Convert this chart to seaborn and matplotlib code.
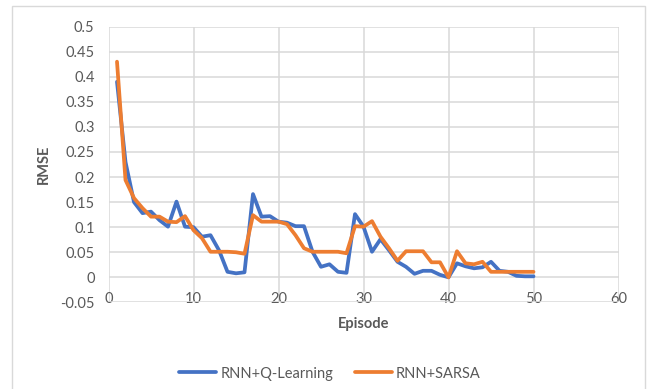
import matplotlib
matplotlib.use("Agg")
import matplotlib.pyplot as plt
import seaborn as sns
import pandas as pd
from matplotlib.patches import Rectangle
from matplotlib.lines import Line2D

episodes = list(range(1, 51))
q_learning = [0.39, 0.23, 0.15, 0.128, 0.131, 0.114, 0.101, 0.151, 0.101, 0.100,
              0.081, 0.084, 0.054, 0.011, 0.008, 0.010, 0.166, 0.121, 0.122, 0.111,
              0.109, 0.102, 0.102, 0.051, 0.021, 0.026, 0.011, 0.009, 0.126, 0.101,
              0.051, 0.076, 0.054, 0.031, 0.021, 0.007, 0.013, 0.013, 0.005, 0.000,
              0.028, 0.022, 0.018, 0.020, 0.031, 0.013, 0.011, 0.003, 0.002, 0.002]
sarsa = [0.43, 0.194, 0.158, 0.138, 0.121, 0.121, 0.111, 0.110, 0.122, 0.094,
         0.078, 0.051, 0.051, 0.051, 0.050, 0.047, 0.124, 0.111, 0.111, 0.111,
         0.106, 0.084, 0.058, 0.051, 0.051, 0.051, 0.051, 0.048, 0.102, 0.101,
         0.112, 0.081, 0.058, 0.033, 0.052, 0.052, 0.052, 0.030, 0.030, 0.000,
         0.052, 0.028, 0.026, 0.031, 0.011, 0.011, 0.011, 0.011, 0.011, 0.011]
series_names = ["RNN+Q-Learning", "RNN+SARSA"]
colors = ["#4472C4", "#ED7D31"]
x_ticks = [0, 10, 20, 30, 40, 50, 60]
y_ticks = [-0.05, 0, 0.05, 0.1, 0.15, 0.2, 0.25, 0.3, 0.35, 0.4, 0.45, 0.5]
y_tick_labels = ["-0.05", "0", "0.05", "0.1", "0.15", "0.2", "0.25", "0.3", "0.35", "0.4", "0.45", "0.5"]

df = pd.DataFrame({
    "Episode": episodes * 2,
    "RMSE": q_learning + sarsa,
    "Series": [series_names[0]] * len(episodes) + [series_names[1]] * len(episodes),
})

sns.set_style("white")
plt.rcParams["font.family"] = ["Lato", "DejaVu Sans"]

fig = plt.figure(figsize=(6.51, 3.89), dpi=100)
ax = fig.add_axes([108.5 / 651, 1 - 302.4 / 389, 510 / 651, 275.8 / 389])

fig.patches.append(Rectangle((12 / 651, -0.05), 633 / 651, 1 - 6 / 389 + 0.05,
                             transform=fig.transFigure, fill=False,
                             edgecolor="#D9D9D9", linewidth=1.0, zorder=0))

sns.lineplot(data=df, x="Episode", y="RMSE", hue="Series",
             palette=dict(zip(series_names, colors)), linewidth=2.7,
             ax=ax, legend=False)
for ln in ax.get_lines():
    ln.set_solid_joinstyle("round")
    ln.set_solid_capstyle("round")

ax.set_xlim(0, 60)
ax.set_ylim(-0.05, 0.5)
ax.set_xticks(x_ticks)
ax.set_yticks(y_ticks)
ax.set_yticklabels(y_tick_labels)
ax.grid(True, color="#D9D9D9", linewidth=1.1)
ax.set_axisbelow(True)
for s in ax.spines.values():
    s.set_visible(False)
ax.tick_params(axis="both", length=0, labelsize=10.5, labelcolor="#595959")
ax.tick_params(axis="y", pad=10)
ax.tick_params(axis="x", pad=-7.5)

ax.set_xlabel("Episode", fontsize=10.5, fontweight="bold", color="#595959", labelpad=8)
ax.set_ylabel("RMSE", fontsize=10.5, fontweight="bold", color="#595959", labelpad=7)

handles = [Line2D([], [], color=c, linewidth=2.7) for c in colors]
fig.legend(handles, series_names, loc="center", bbox_to_anchor=(0.507, 1 - 373.6 / 389),
           ncol=2, frameon=False, fontsize=10.5, handlelength=2.5, handletextpad=0.3,
           columnspacing=1.5, labelcolor="#595959")

fig.savefig("out.png", dpi=100)
